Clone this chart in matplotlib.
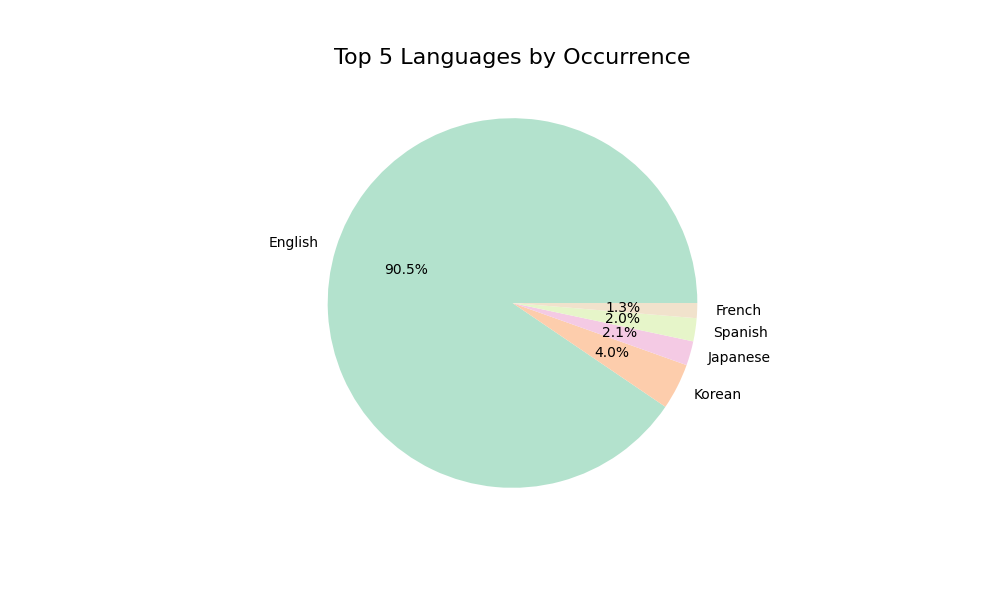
import matplotlib

matplotlib.use("Agg")
import matplotlib.pyplot as plt

languages = ["English", "Korean", "Japanese", "Spanish", "French"]
shares = [89.6, 4.0, 2.1, 2.0, 1.3]
colors = ["#b3e2cd", "#fdcdac", "#f4cae4", "#e6f5c9", "#f1e2cc"]

fig, ax = plt.subplots(figsize=(10, 6))
ax.pie(shares, labels=languages, colors=colors, autopct="%1.1f%%")
ax.set_title("Top 5 Languages by Occurrence", fontsize=16)
fig.savefig("out.png", dpi=100)
